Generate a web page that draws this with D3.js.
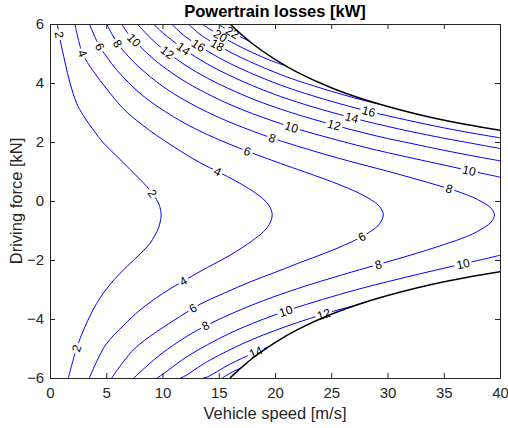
<!DOCTYPE html>
<html>
<head>
<meta charset="utf-8">
<script src="https://cdn.jsdelivr.net/npm/d3@7"></script>
<style>
  body { margin: 0; background: #fff; }
  text { font-family: "Liberation Sans", Arial, Helvetica, sans-serif; }
</style>
</head>
<body>
<div id="chart"></div>
<script>
// contour lines, [speed m/s, force kN]
const c2 = [[0.65,6],[0.89,5.49],[1.33,4.71],[1.78,4.0],[2.37,3.31],[2.96,2.9],[3.85,2.41],[4.74,1.97],[5.93,1.52],[7.11,1.07],[8.6,0.49],[9.45,0.06],[9.75,-0.18],[9.88,-0.47],[9.75,-0.78],[9.63,-0.93],[8.9,-1.43],[8.0,-1.8],[6.81,-2.23],[5.33,-2.83],[4.15,-3.47],[3.11,-4.26],[2.37,-4.99],[1.63,-6]];
const c4 = [[2.22,6],[2.89,5.0],[3.85,4.4],[5.04,3.8],[6.52,3.13],[8.3,2.55],[10.67,1.92],[13.33,1.3],[15,0.98],[16.5,0.68],[18,0.34],[19,0.05],[19.5,-0.17],[19.75,-0.47],[19.5,-0.79],[19,-1.03],[18,-1.34],[16,-1.84],[14,-2.25],[12,-2.68],[10,-3.14],[8,-3.7],[6.52,-4.22],[5,-4.85],[4.2,-5.4],[3.5,-6]];
const c6 = [[3.5,6],[4.4,5.24],[5,4.91],[6,4.41],[8,3.65],[10,3.09],[12,2.63],[14,2.25],[16,1.92],[18,1.62],[20,1.34],[22,1.07],[25,0.66],[27,0.35],[28.5,0.05],[29.3,-0.19],[29.63,-0.47],[29.3,-0.77],[29,-0.89],[28,-1.15],[26.67,-1.41],[24.5,-1.76],[22.2,-2.09],[20,-2.42],[17.8,-2.74],[15.5,-3.12],[13.33,-3.5],[11.5,-3.93],[9.48,-4.43],[7.4,-5.05],[5.48,-6]];
const c8 = [[5.04,6],[6,5.34],[7,4.89],[8,4.51],[10,3.89],[12,3.41],[14,3.01],[16,2.67],[18,2.37],[20,2.1],[22,1.86],[25,1.52],[28,1.21],[30,1.01],[32,0.8],[35,0.47],[37,0.22],[38,0.05],[39.2,-0.24],[39.5,-0.47],[39.2,-0.72],[38,-1.03],[37,-1.21],[35,-1.48],[32,-1.84],[29,-2.17],[26,-2.5],[22,-2.97],[18,-3.52],[14,-4.2],[12,-4.63],[10,-5.15],[8.5,-5.63],[7.45,-6]];
const c10u = [[6.35,6],[7,5.65],[8,5.24],[9,4.88],[10,4.57],[12,4.05],[14,3.63],[16,3.27],[18,2.96],[20,2.69],[22,2.44],[25,2.12],[28,1.82],[30,1.64],[32,1.47],[35,1.22],[38,0.97],[40,0.81]];
const c10l = [[9.5,-6],[10,-5.88],[12,-5.32],[14,-4.87],[16,-4.48],[18,-4.15],[20,-3.86],[22,-3.6],[25,-3.25],[28,-2.93],[32,-2.55],[35,-2.28],[38,-2.02],[40,-1.84]];
const c12u = [[7.75,6],[9,5.5],[10,5.17],[12,4.61],[14,4.16],[16,3.79],[18,3.46],[20,3.18],[22,2.93],[25,2.6],[28,2.3],[30,2.12],[32,1.96],[35,1.72],[38,1.5],[40,1.36]];
const c12l = [[11.6,-6],[12,-5.93],[14,-5.44],[16,-5.04],[18,-4.69],[20,-4.39],[22,-4.12],[24.3,-3.84],[26,-3.65],[27,-3.55],[28.2,-3.41]];
const c14u = [[9.18,6],[10,5.71],[12,5.12],[14,4.64],[16,4.25],[18,3.91],[20,3.61],[22,3.35],[25,3.01],[28,2.71],[30,2.53],[32,2.36],[35,2.13],[38,1.92],[40,1.78]];
const c14l = [[13.6,-6],[14,-5.96],[16,-5.53],[18,-5.17],[19.5,-4.93]];
const c16u = [[10.8,6],[12,5.58],[13.33,5.24],[15,4.86],[17,4.48],[20,4.0],[22,3.73],[25,3.38],[28,3.07],[30,2.89],[32,2.72],[35,2.48],[38,2.27],[40,2.14]];
const c16l = [[15.3,-6],[16.2,-5.8],[16.9,-5.67]];
const c18 = [[12.3,6],[13.33,5.65],[14.8,5.3],[17,4.86],[20,4.36],[22,4.08],[25,3.72],[27,3.5],[28.5,3.35],[29.2,3.29]];
const c20 = [[13.5,6],[14.5,5.75],[15.1,5.61],[16.5,5.31],[18,5.03],[19.5,4.78],[20.8,4.6]];
const c22 = [[14.9,6],[16.15,5.72],[17,5.55],[17.7,5.42]];

// power limit curves (black)
const limitTop = [[16,6],[17,5.65],[18,5.33],[20,4.8],[22,4.36],[25,3.84],[28,3.43],[31,3.1],[34,2.82],[37,2.59],[40,2.4]];
const limitBottom = [[16,-6],[17,-5.65],[18,-5.33],[20,-4.8],[22,-4.36],[25,-3.84],[28,-3.43],[31,-3.1],[34,-2.82],[37,-2.59],[40,-2.4]];

// contour labels: [level, speed, force]
const labelSpots = [
  [2,0.8,5.63],[2,8.9,0.2],[2,2.37,-4.99],
  [4,2.89,5.0],[4,14.8,0.94],[4,11.85,-2.73],
  [6,4.4,5.22],[6,17.48,1.62],[6,12.68,-3.6],[6,27.8,-1.26],
  [8,6.0,5.34],[8,19.7,2.07],[8,35.4,0.31],[8,13.78,-4.2],[8,29.2,-2.17],
  [10,7.38,5.43],[10,21.4,2.43],[10,37.2,0.95],[10,20.9,-3.69],[10,36.7,-2.11],
  [12,10.4,5.02],[12,25.2,2.51],[12,24.3,-3.81],
  [14,11.8,5.12],[14,26.8,2.78],[14,18.2,-5.05],
  [16,13.1,5.23],[16,28.3,2.97],
  [18,14.8,5.23],[20,15.1,5.57],[22,16.15,5.68]
];

const xTicks = [0,5,10,15,20,25,30,35,40];
const yTicks = [-6,-4,-2,0,2,4,6];

const contourLines = [
  [2,c2],[4,c4],[6,c6],[8,c8],[10,c10u],[10,c10l],[12,c12u],[12,c12l],
  [14,c14u],[14,c14l],[16,c16u],[16,c16l],[18,c18],[20,c20],[22,c22]
];

const W = 508, H = 428;
const margin = {top: 24, right: 8, bottom: 50, left: 50};
const width = W - margin.left - margin.right,
      height = H - margin.top - margin.bottom;

const svg = d3.select("#chart").append("svg")
  .attr("width", W)
  .attr("height", H);

const g = svg.append("g")
  .attr("transform", `translate(${margin.left},${margin.top})`);

const x = d3.scaleLinear().domain([0, 40]).range([0, width]);
const y = d3.scaleLinear().domain([-6, 6]).range([height, 0]);

svg.append("defs").append("clipPath").attr("id", "plotclip")
  .append("rect").attr("width", width).attr("height", height);

const plot = g.append("g").attr("clip-path", "url(#plotclip)");

const line = d3.line()
  .x(d => x(d[0]))
  .y(d => y(d[1]))
  .curve(d3.curveCatmullRom.alpha(0.5));

// contour lines
const paths = {};
contourLines.forEach(([lvl, pts]) => {
  const p = plot.append("path")
    .datum(pts)
    .attr("d", line)
    .attr("fill", "none")
    .attr("stroke", "#0000ff")
    .attr("stroke-width", 1);
  (paths[lvl] = paths[lvl] || []).push(p.node());
});

// label gaps + labels, placed on the nearest point of their line
const labelLayer = plot.append("g");
const placed = labelSpots.map(([lvl, v, f]) => {
  const tx = x(v), ty = y(f);
  let best = null;
  paths[lvl].forEach(node => {
    const L = node.getTotalLength();
    for (let s = 0; s <= L; s += 0.5) {
      const pt = node.getPointAtLength(s);
      const d = (pt.x - tx) ** 2 + (pt.y - ty) ** 2;
      if (!best || d < best.d) best = {d, s, node, L};
    }
  });
  const pc = best.node.getPointAtLength(best.s);
  const p0 = best.node.getPointAtLength(Math.max(0, best.s - 4));
  const p1 = best.node.getPointAtLength(Math.min(best.L, best.s + 4));
  let ang = Math.atan2(p1.y - p0.y, p1.x - p0.x) * 180 / Math.PI;
  if (ang > 90) ang -= 180;
  if (ang < -90) ang += 180;
  return {lvl, x: pc.x, y: pc.y, ang};
});

placed.forEach(d => {
  const lg = labelLayer.append("g")
    .attr("transform", `translate(${d.x},${d.y}) rotate(${d.ang})`);
  const rect = lg.append("rect").attr("fill", "#fff");
  const t = lg.append("text")
    .attr("text-anchor", "middle")
    .attr("dy", "0.35em")
    .style("font-size", "12px")
    .attr("fill", "#000")
    .text(d.lvl);
  const w = t.node().getComputedTextLength();
  rect.attr("x", -w / 2 - 2).attr("y", -3.5).attr("width", w + 4).attr("height", 7);
  d.text = t;
});

// power limit curves
[limitTop, limitBottom].forEach(pts => {
  plot.append("path")
    .datum(pts)
    .attr("d", line)
    .attr("fill", "none")
    .attr("stroke", "#000")
    .attr("stroke-width", 1.5);
});

// bring label text above the black curves
labelLayer.raise();
labelLayer.selectAll("rect").remove();
// redraw gaps under text only for blue lines: put rects back in a layer below the black curves
const gapLayer = plot.insert("g", "path:nth-of-type(" + (contourLines.length + 1) + ")");
placed.forEach(d => {
  const w = d.text.node().getComputedTextLength();
  gapLayer.append("rect")
    .attr("transform", `translate(${d.x},${d.y}) rotate(${d.ang})`)
    .attr("x", -w / 2 - 2).attr("y", -3.5)
    .attr("width", w + 4).attr("height", 7)
    .attr("fill", "#fff");
});

// axes (ticks inside, box)
const axisColor = "#262626";
const styleAxis = sel => {
  sel.selectAll("path, line").attr("stroke", axisColor);
  sel.selectAll("text").attr("fill", axisColor).style("font-size", "15px");
};

g.append("g")
  .attr("transform", `translate(0,${height})`)
  .call(d3.axisBottom(x).tickValues(xTicks).tickSizeInner(-5).tickSizeOuter(0).tickPadding(9))
  .call(styleAxis);

g.append("g")
  .call(d3.axisLeft(y).tickValues(yTicks).tickSizeInner(-5).tickSizeOuter(0).tickPadding(6))
  .call(styleAxis);

g.append("g")
  .call(d3.axisTop(x).tickValues(xTicks).tickSizeInner(-5).tickSizeOuter(0).tickFormat(""))
  .call(styleAxis);

g.append("g")
  .attr("transform", `translate(${width},0)`)
  .call(d3.axisRight(y).tickValues(yTicks).tickSizeInner(-5).tickSizeOuter(0).tickFormat(""))
  .call(styleAxis);

// title and axis labels
svg.append("text")
  .attr("x", margin.left + width / 2)
  .attr("y", 17)
  .attr("text-anchor", "middle")
  .style("font-size", "16.5px")
  .style("font-weight", "bold")
  .attr("fill", "#000")
  .text("Powertrain losses [kW]");

svg.append("text")
  .attr("x", margin.left + width / 2)
  .attr("y", 419)
  .attr("text-anchor", "middle")
  .style("font-size", "16.5px")
  .attr("fill", axisColor)
  .text("Vehicle speed [m/s]");

svg.append("text")
  .attr("transform", `translate(22,${margin.top + height / 2}) rotate(-90)`)
  .attr("text-anchor", "middle")
  .style("font-size", "16.5px")
  .attr("fill", axisColor)
  .text("Driving force [kN]");
</script>
</body>
</html>
